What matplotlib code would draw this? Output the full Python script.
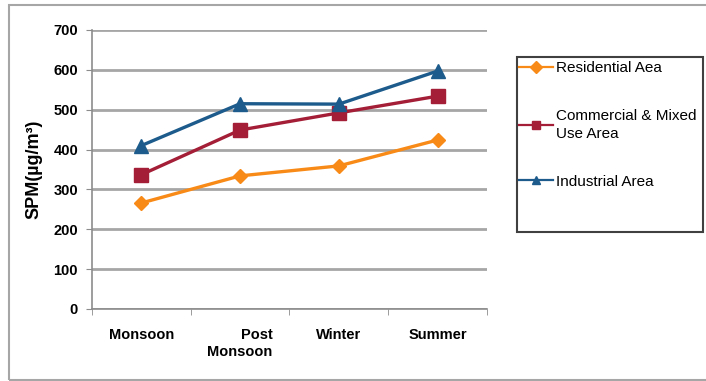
import matplotlib.pyplot as plt
from matplotlib.patches import Rectangle

plt.rcParams["font.family"] = ["Liberation Sans", "DejaVu Sans"]

seasons = ["Monsoon", "Post\nMonsoon", "Winter", "Summer"]
residential = [266, 334, 359, 424]
commercial = [337, 449, 492, 534]
industrial = [410, 515, 514, 597]
labels = ["Residential Aea", "Commercial & Mixed\nUse Area", "Industrial Area"]
yticks = [0, 100, 200, 300, 400, 500, 600, 700]

fig = plt.figure(figsize=(7.06, 3.81), dpi=100)
ax = fig.add_axes([0.1303, 0.189, 0.5595, 0.7323])

# outer frame around whole chart
fig.patches.append(
    Rectangle((9 / 706, 1 / 381), 700 / 706, 375 / 381, transform=fig.transFigure,
              fill=False, edgecolor="#a6a6a6", linewidth=1.5)
)
# legend box (drawn separately so it can be taller than its entries)
fig.patches.append(
    Rectangle((517 / 706, 1 - 232 / 381), 186 / 706, 175 / 381,
              transform=fig.transFigure, fill=False, edgecolor="#404040",
              linewidth=1.5)
)

x = range(len(seasons))
ax.plot(x, residential, "-D", color="#f88a17", lw=2.4, ms=7, label=labels[0])
ax.plot(x, commercial, "-s", color="#a31e36", lw=2.4, ms=9.5, label=labels[1])
ax.plot(x, industrial, "-^", color="#1c5b8b", lw=2.4, ms=10.5, label=labels[2])

ax.set_xlim(-0.5, 3.5)
ax.set_ylim(0, 700)
ax.set_yticks(yticks)
ax.set_xticks(x)
ax.set_xticklabels(seasons, fontweight="bold", fontsize=10.5, multialignment="right")
ax.tick_params(axis="x", length=0, pad=14)
ax.set_xticks([-0.5, 0.5, 1.5, 2.5, 3.5], minor=True)
ax.tick_params(axis="x", which="minor", length=4, color="#8c8c8c", direction="out")
ax.tick_params(axis="y", length=4, color="#8c8c8c", labelsize=10.5, pad=6)
for t in ax.get_yticklabels():
    t.set_fontweight("bold")

ax.grid(axis="y", color="#a6a6a6", lw=2)
ax.set_axisbelow(True)
for s in ["top", "right"]:
    ax.spines[s].set_visible(False)
for s in ["left", "bottom"]:
    ax.spines[s].set_color("#8c8c8c")
    ax.spines[s].set_linewidth(1.2)

ax.set_ylabel("SPM(µg/m³)", fontweight="bold", fontsize=13, labelpad=8)

leg = fig.legend(loc="upper left", bbox_to_anchor=(519 / 706, 1 - 61 / 381),
                 frameon=False, fontsize=11, handlelength=2.2,
                 handletextpad=0.2, labelspacing=2.2, borderpad=0.0,
                 borderaxespad=0)
for t in leg.get_texts():
    t.set_linespacing(1.4)
for h in leg.legend_handles:
    h.set_markersize(6)
    h.set_linewidth(1.6)

fig.savefig("out.png", dpi=100)
